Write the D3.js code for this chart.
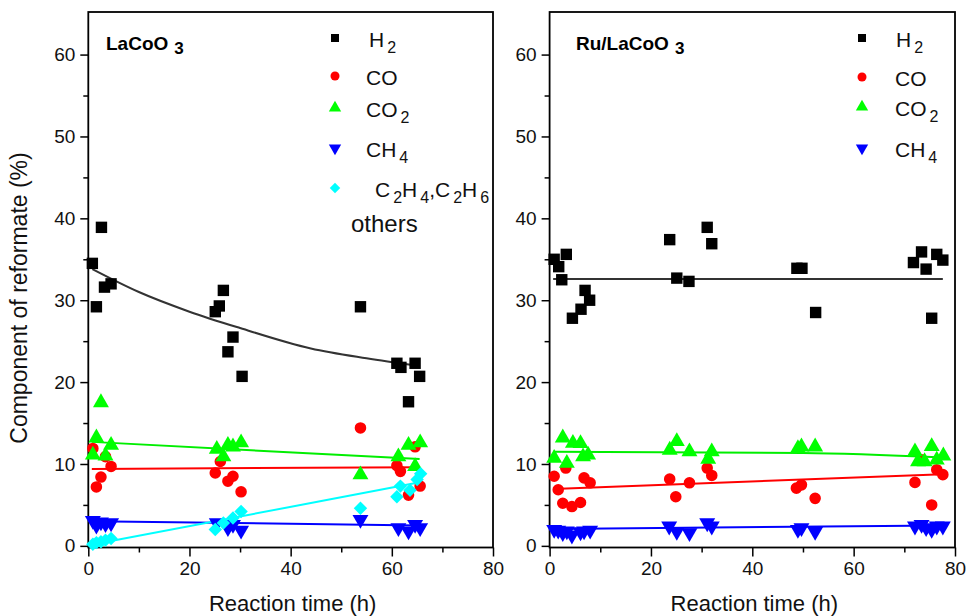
<!DOCTYPE html>
<html>
<head>
<meta charset="utf-8">
<script src="https://cdn.jsdelivr.net/npm/d3@7"></script>
<style>
  body { margin: 0; background: #fff; }
  svg { display: block; font-family: "Liberation Sans", Arial, sans-serif; }
</style>
</head>
<body>
<div id="chart"></div>
<script>
// ---- data ----
const xTicks = [0, 20, 40, 60, 80];
const xMinor = [10, 30, 50, 70];
const yTicks = [0, 10, 20, 30, 40, 50, 60];
const yMinor = [5, 15, 25, 35, 45, 55];

// LaCoO3 panel, [time h, %]
const laH2 = [[0.8,34.5],[1.6,29.2],[2.6,38.9],[3.2,31.6],[4.5,32.0],[25.1,28.6],[25.9,29.3],[26.7,31.2],[27.6,23.7],[28.6,25.5],[30.4,20.7],[53.8,29.2],[61.0,22.3],[61.8,21.8],[63.3,17.6],[64.6,22.3],[65.5,20.7]];
const laCO = [[0.9,11.9],[1.6,7.2],[2.5,8.4],[3.4,10.9],[4.5,9.7],[25.1,8.9],[26.1,10.3],[27.6,7.9],[28.6,8.5],[30.2,6.6],[53.8,14.4],[61.0,9.8],[61.7,9.1],[63.3,6.2],[64.6,12.1],[65.6,7.3]];
const laCO2 = [[0.9,11.1],[1.6,13.2],[2.5,17.5],[3.4,11.0],[4.5,12.3],[25.4,11.8],[26.7,10.9],[27.6,12.3],[28.6,12.1],[30.2,12.6],[53.8,8.7],[61.3,10.9],[63.3,12.3],[64.6,9.7],[65.6,12.6]];
const laCH4 = [[0.9,3.1],[1.6,2.5],[2.5,2.9],[3.4,2.7],[4.5,2.8],[25.4,2.8],[27.6,2.2],[28.6,2.6],[30.2,1.9],[53.8,3.2],[61.3,2.2],[63.3,1.8],[64.6,2.6],[65.6,2.2]];
const laC2 = [[0.9,0.2],[1.6,0.4],[2.5,0.5],[3.4,0.7],[4.5,0.9],[25.1,2.0],[26.7,2.8],[28.6,3.4],[30.2,4.2],[53.8,4.6],[61.0,6.0],[61.7,7.3],[63.6,6.8],[65.0,8.1],[65.7,8.8]];

const laFitH2 = [[0.8,33.8],[10,31.0],[20,28.6],[30,26.6],[44,24.1],[55,22.9],[65,22.0]];
const laFitCO = [[0.7,9.4],[65.5,9.6]];
const laFitCO2 = [[0.7,12.7],[65.5,10.6]];
const laFitCH4 = [[0.7,3.0],[65.5,2.5]];
const laFitC2 = [[0.3,0.1],[65,7.7]];

// Ru/LaCoO3 panel
const ruH2 = [[0.9,35.0],[1.8,34.1],[2.4,32.5],[3.3,35.6],[4.5,27.8],[6.2,28.9],[7.0,31.2],[7.9,30.0],[23.7,37.4],[25.1,32.7],[27.5,32.3],[31.1,38.9],[32.0,36.9],[48.8,33.9],[49.8,33.9],[52.5,28.5],[71.8,34.6],[73.4,35.9],[74.3,33.8],[75.4,27.8],[76.4,35.6],[77.6,34.9]];
const ruCO = [[0.9,8.5],[1.7,6.85],[2.6,5.2],[3.2,9.5],[4.4,4.8],[6.1,5.3],[6.8,8.3],[8.0,7.7],[23.7,8.15],[24.9,6.0],[27.6,7.7],[31.1,9.5],[32.0,8.6],[48.7,7.05],[49.7,7.45],[52.4,5.8],[72.1,7.75],[73.4,10.5],[75.4,5.0],[76.4,9.3],[77.6,8.7]];
const ruCO2 = [[0.9,10.7],[2.6,13.2],[3.4,10.1],[4.6,12.55],[6.1,12.5],[6.6,10.9],[7.6,11.1],[23.7,11.7],[25.1,12.75],[27.6,11.5],[31.3,10.6],[32.0,11.5],[49.0,11.9],[49.7,12.1],[52.4,12.1],[72.1,11.5],[72.7,10.3],[74.0,10.3],[75.4,12.15],[76.4,10.5],[77.7,11.0]];
const ruCH4 = [[0.9,2.0],[1.7,1.9],[2.6,1.6],[3.4,1.8],[4.4,1.3],[6.1,1.7],[6.8,1.8],[8.0,1.9],[23.6,2.4],[25.1,1.75],[27.6,1.6],[31.1,2.8],[32.0,2.4],[49.0,2.0],[49.7,2.2],[52.4,1.75],[72.1,2.4],[73.4,2.6],[74.3,2.2],[75.4,2.0],[76.4,2.4],[77.6,2.4]];

const ruFitH2 = [[0.7,32.6],[77.6,32.6]];
const ruFitCO = [[0.7,6.95],[77.6,8.75]];
const ruFitCO2 = [[0.7,11.5],[50,11.35],[77.6,10.8]];
const ruFitCH4 = [[0.7,2.05],[77.6,2.5]];

// ---- styles per species ----
const species = {
  H2:  { color: '#000000', line: '#333333', shape: 'square',  size: 130, leg: 64,  label: [['H',0],['2',1]] },
  CO:  { color: '#ff0000', line: '#ff0000', shape: 'circle',  size: 105, leg: 64,  label: [['CO',0]] },
  CO2: { color: '#00ff00', line: '#00ee00', shape: 'up',      size: 100, leg: 60,  label: [['CO',0],['2',1]] },
  CH4: { color: '#0000ff', line: '#0000ff', shape: 'down',    size: 100, leg: 60,  label: [['CH',0],['4',1]] },
  C2:  { color: '#00ffff', line: '#00ffff', shape: 'diamond', size: 90,  leg: 55,  label: [['C',0],['2',1],['H',0],['4',1],[',C',0],['2',1],['H',0],['6',1]] }
};

const W = 966, H = 616;
const svg = d3.select('#chart').append('svg').attr('width', W).attr('height', H);

const yScale = d3.scaleLinear().domain([-0.2, 65.2]).range([547.5, 12]);

function symbolPath(shape, size) {
  if (shape === 'square') return d3.symbol().type(d3.symbolSquare).size(size)();
  if (shape === 'circle') return d3.symbol().type(d3.symbolCircle).size(size)();
  if (shape === 'up' || shape === 'down') return d3.symbol().type(d3.symbolTriangle).size(size * 1.1)();
  return d3.symbol().type(d3.symbolSquare).size(size)();
}
function symbolRot(shape) {
  if (shape === 'down') return ' rotate(180)';
  if (shape === 'diamond') return ' rotate(45)';
  return '';
}

// label with subscripts; sub parts dropped by a few px
function writeLabel(sel, parts, fs, subFs) {
  let down = false;
  parts.forEach(([t, sub]) => {
    const ts = sel.append('tspan').text(t);
    if (sub && !down) { ts.attr('dy', 6).attr('dx', 3).style('font-size', subFs + 'px'); down = true; }
    else if (!sub && down) { ts.attr('dy', -6).style('font-size', fs + 'px'); down = false; }
    else if (sub) ts.style('font-size', subFs + 'px');
  });
}

function drawPanel(p) {
  const x = d3.scaleLinear().domain([0, 80]).range(p.xRange);
  const g = svg.append('g');

  // frame
  g.append('rect')
    .attr('x', p.xRange[0]).attr('y', 12)
    .attr('width', p.xRange[1] - p.xRange[0]).attr('height', 547.5 - 12)
    .attr('fill', 'none').attr('stroke', '#000').attr('stroke-width', 1.8);

  // axes
  g.append('g').attr('transform', 'translate(0,547.5)')
    .call(d3.axisBottom(x).tickValues(xTicks).tickSize(9).tickPadding(5).tickFormat(d3.format('d')));
  g.append('g').attr('transform', 'translate(0,547.5)')
    .call(d3.axisBottom(x).tickValues(xMinor).tickSize(5).tickFormat(''));
  g.append('g').attr('transform', 'translate(' + p.xRange[0] + ',0)')
    .call(d3.axisLeft(yScale).tickValues(yTicks).tickSize(8).tickPadding(5).tickFormat(d3.format('d')));
  g.append('g').attr('transform', 'translate(' + p.xRange[0] + ',0)')
    .call(d3.axisLeft(yScale).tickValues(yMinor).tickSize(5).tickFormat(''));
  g.selectAll('.domain').remove();
  g.selectAll('.tick line').attr('stroke', '#000').attr('stroke-width', 1.5);
  g.selectAll('.tick text').style('font-size', '19px').attr('fill', '#111')
    .style('font-family', '"Liberation Sans", Arial, sans-serif');

  // x title
  g.append('text').attr('x', (p.xRange[0] + p.xRange[1]) / 2 + 2).attr('y', 611)
    .attr('text-anchor', 'middle').style('font-size', '22px').attr('fill', '#111')
    .text('Reaction time (h)');

  // fit lines
  const line = d3.line().x(d => x(d[0])).y(d => yScale(d[1])).curve(d3.curveMonotoneX);
  p.fits.forEach(f => {
    g.append('path').attr('d', line(f.data)).attr('fill', 'none')
      .attr('stroke', species[f.key].line).attr('stroke-width', 2);
  });

  // markers
  p.series.forEach(s => {
    const st = species[s.key];
    g.append('g').selectAll('path').data(s.data).enter().append('path')
      .attr('d', symbolPath(st.shape, st.size))
      .attr('transform', d => 'translate(' + x(d[0]) + ',' + yScale(d[1]) + ')' + symbolRot(st.shape))
      .attr('fill', st.color);
  });

  // title
  const t = g.append('text').attr('x', p.title.x).attr('y', 50)
    .style('font-size', '19px').style('font-weight', 'bold').attr('fill', '#000');
  t.append('tspan').text(p.title.text);
  t.append('tspan').text('3').attr('dx', 6).attr('dy', 4).style('font-size', '17px');

  // legend
  p.legend.forEach(l => {
    const st = species[l.key];
    g.append('path').attr('d', symbolPath(st.shape, st.leg))
      .attr('transform', 'translate(' + p.legX + ',' + l.y + ')' + symbolRot(st.shape))
      .attr('fill', st.color);
    const tx = g.append('text').attr('x', l.tx).attr('y', l.y + 9)
      .style('font-size', '21px').attr('fill', '#111');
    writeLabel(tx, st.label, 21, 16);
  });
  if (p.others) {
    g.append('text').attr('x', p.others.x).attr('y', p.others.y)
      .style('font-size', '24px').attr('fill', '#111').text('others');
  }
}

drawPanel({
  xRange: [88.3, 493],
  title: { x: 106, text: 'LaCoO' },
  series: [
    { key: 'H2', data: laH2 }, { key: 'CO', data: laCO }, { key: 'CO2', data: laCO2 },
    { key: 'CH4', data: laCH4 }, { key: 'C2', data: laC2 }
  ],
  fits: [
    { key: 'H2', data: laFitH2 }, { key: 'CO', data: laFitCO }, { key: 'CO2', data: laFitCO2 },
    { key: 'CH4', data: laFitCH4 }, { key: 'C2', data: laFitC2 }
  ],
  legX: 335,
  legend: [
    { key: 'H2', y: 38, tx: 369 }, { key: 'CO', y: 76, tx: 366 }, { key: 'CO2', y: 108, tx: 366 },
    { key: 'CH4', y: 148, tx: 366 }, { key: 'C2', y: 188, tx: 375 }
  ],
  others: { x: 351, y: 232 }
});

drawPanel({
  xRange: [549.6, 955],
  title: { x: 576, text: 'Ru/LaCoO' },
  series: [
    { key: 'H2', data: ruH2 }, { key: 'CO', data: ruCO }, { key: 'CO2', data: ruCO2 },
    { key: 'CH4', data: ruCH4 }
  ],
  fits: [
    { key: 'H2', data: ruFitH2 }, { key: 'CO', data: ruFitCO }, { key: 'CO2', data: ruFitCO2 },
    { key: 'CH4', data: ruFitCH4 }
  ],
  legX: 862,
  legend: [
    { key: 'H2', y: 38, tx: 896 }, { key: 'CO', y: 77, tx: 895 }, { key: 'CO2', y: 107, tx: 895 },
    { key: 'CH4', y: 148, tx: 895 }
  ]
});

// y title
svg.append('text')
  .attr('transform', 'translate(27,298) rotate(-90)')
  .attr('text-anchor', 'middle').style('font-size', '23px').attr('fill', '#111')
  .text('Component of reformate (%)');
</script>
</body>
</html>
